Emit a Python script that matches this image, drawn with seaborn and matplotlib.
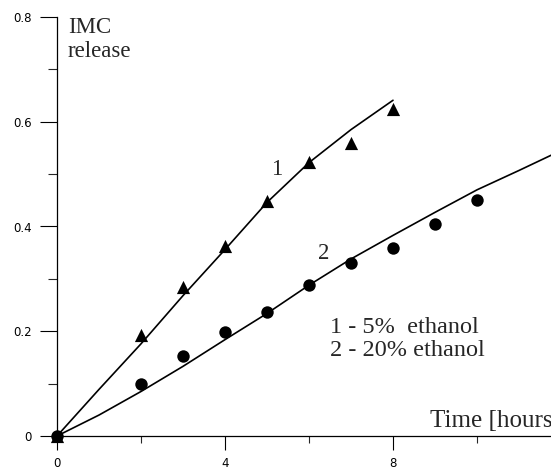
import matplotlib
matplotlib.use("Agg")
import matplotlib.pyplot as plt
import seaborn as sns
import numpy as np

# Measured release points
time_5pct = [0, 2, 3, 4, 5, 6, 7, 8]
release_5pct = [0.0, 0.193, 0.285, 0.363, 0.449, 0.523, 0.559, 0.625]
time_20pct = [0, 2, 3, 4, 5, 6, 7, 8, 9, 10]
release_20pct = [0.0, 0.100, 0.152, 0.199, 0.237, 0.289, 0.331, 0.359, 0.405, 0.450]

# Fitted curves
fit_time_1 = [0, 1, 2, 3, 4, 5, 6, 7, 8]
fit_release_1 = [0.0, 0.089, 0.176, 0.268, 0.356, 0.446, 0.522, 0.585, 0.641]
fit_time_2 = [0, 1, 2, 3, 4, 5, 6, 7, 8, 9, 10, 11, 12]
fit_release_2 = [0.0, 0.040, 0.085, 0.133, 0.184, 0.234, 0.288, 0.338, 0.383, 0.427, 0.470, 0.507, 0.545]

x_major = [0, 4, 8]
x_minor = [2, 6, 10]
y_major = [0, 0.2, 0.4, 0.6, 0.8]
y_major_labels = ["0", "0.2", "0.4", "0.6", "0.8"]
y_minor = [0.1, 0.3, 0.5, 0.7]

sns.set_style("ticks")
plt.rcParams['font.family'] = ['DejaVu Sans']

W, H = 551, 469
fig = plt.figure(figsize=(W / 100, H / 100), dpi=100)
ax = fig.add_axes([57 / W, 33 / H, 1 - 57 / W, (436 - 17) / H])

sns.lineplot(x=fit_time_1, y=fit_release_1, color="black", lw=1.2, ax=ax)
sns.lineplot(x=fit_time_2, y=fit_release_2, color="black", lw=1.2, ax=ax)
sns.scatterplot(x=time_5pct, y=release_5pct, marker="^", s=90, color="black",
                edgecolor="black", linewidth=0, ax=ax, clip_on=False, zorder=5)
sns.scatterplot(x=time_20pct, y=release_20pct, marker="o", s=80, color="black",
                edgecolor="black", linewidth=0, ax=ax, clip_on=False, zorder=6)

ax.set_xlim(0, 494 / 42)
ax.set_ylim(0, 0.8)
ax.set_xticks(x_major)
ax.set_xticklabels([str(v) for v in x_major])
ax.set_xticks(x_minor, minor=True)
ax.set_yticks(y_major)
ax.set_yticklabels(y_major_labels)
ax.set_yticks(y_minor, minor=True)

ax.tick_params(axis="x", which="major", length=10, width=0.8, pad=5, labelsize=8.5, colors="black")
ax.tick_params(axis="x", which="minor", length=5, width=0.8)
ax.tick_params(axis="y", which="major", length=12, width=0.8, pad=6, labelsize=8.5, colors="black")
ax.tick_params(axis="y", which="minor", length=6.5, width=0.8)

for side in ["top", "right"]:
    ax.spines[side].set_visible(False)
for side in ["left", "bottom"]:
    ax.spines[side].set_color("black")
    ax.spines[side].set_linewidth(0.9)

ax.set_xlabel("")
ax.set_ylabel("")

serif = ["Liberation Serif", "DejaVu Serif"]
ax.text(0.26, 0.769, "IMC", family=serif, fontsize=16.5, va="baseline", ha="left")
ax.text(0.26, 0.723, "release", family=serif, fontsize=16.5, va="baseline", ha="left")
ax.text(5.24, 0.509, "1", family=serif, fontsize=16.5, va="center", ha="center")
ax.text(6.36, 0.348, "2", family=serif, fontsize=16.5, va="center", ha="center")
ax.text(6.5, 0.197, "1 - 5%  ethanol", family=serif, fontsize=17.5, va="baseline", ha="left")
ax.text(6.5, 0.153, "2 - 20% ethanol", family=serif, fontsize=17.5, va="baseline", ha="left")
ax.text(8.88, 0.017, "Time [hours]", family=serif, fontsize=18, va="baseline", ha="left")

fig.savefig("out.png", dpi=100)
